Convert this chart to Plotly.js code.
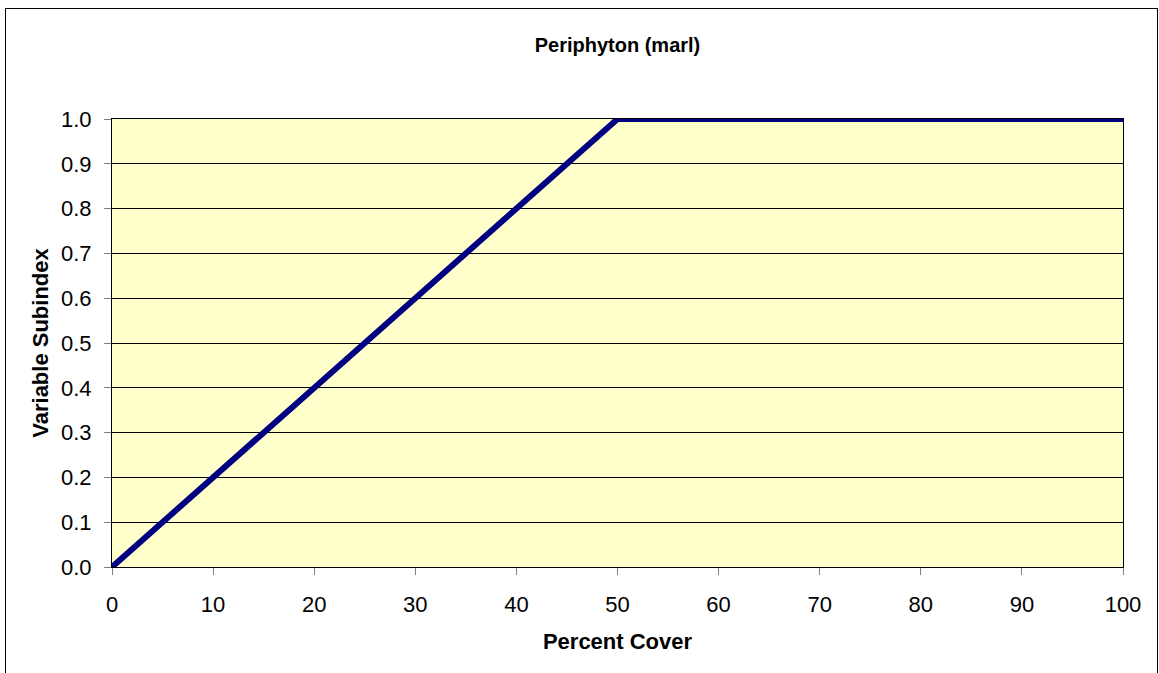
<!DOCTYPE html>
<html>
<head>
<meta charset="utf-8">
<script src="https://cdn.plot.ly/plotly-3.0.1.min.js"></script>
<style>
html,body{margin:0;padding:0;background:#fff;}
#wrap{position:relative;width:1159px;height:673px;overflow:hidden;}
#chart{position:absolute;left:0;top:0;width:1159px;height:673px;}
#frame{position:absolute;left:5px;top:8px;width:1151px;height:700px;border:1px solid #000;pointer-events:none;}
</style>
</head>
<body>
<div id="wrap"><div id="chart"></div><div id="frame"></div></div>
<script>
const percentCover = [0, 50, 100];
const subindex = [0, 1, 1];
const xTicks = [0,10,20,30,40,50,60,70,80,90,100];
const yTicks = [0,0.1,0.2,0.3,0.4,0.5,0.6,0.7,0.8,0.9,1.0];

const trace = {
  x: percentCover, y: subindex, type: 'scatter', mode: 'lines',
  line: {color: '#000080', width: 6}, hoverinfo: 'skip', cliponaxis: false
};
const font = {family: 'Liberation Sans, Arial, sans-serif', color: '#000'};
const layout = {
  width: 1159, height: 673,
  margin: {l: 112, r: 36, t: 119, b: 106},
  paper_bgcolor: 'rgba(0,0,0,0)', plot_bgcolor: '#FFFFCC',
  font: Object.assign({size: 22}, font),
  showlegend: false,
  title: {text: '<b>Periphyton (marl)</b>', font: Object.assign({size: 20}, font),
    x: 0.5, xref: 'paper', xanchor: 'center', y: 1 - 45/673, yref: 'container', yanchor: 'middle'},
  xaxis: {
    range: [0, 100], tickvals: xTicks, ticktext: xTicks.map(String),
    showgrid: false, zeroline: false,
    showline: true, linecolor: '#000', linewidth: 1, mirror: true,
    ticks: 'outside', ticklen: 7, tickcolor: '#808080', tickwidth: 1,
    ticklabelstandoff: 11,
    tickfont: Object.assign({size: 22}, font),
    title: {text: '<b>Percent Cover</b>', font: Object.assign({size: 22}, font), standoff: 17}
  },
  yaxis: {
    range: [0, 1], tickvals: yTicks, ticktext: yTicks.map(v => v.toFixed(1)),
    showgrid: true, gridcolor: '#000', gridwidth: 1, zeroline: false,
    showline: true, linecolor: '#000', linewidth: 1, mirror: true,
    ticks: 'outside', ticklen: 7, tickcolor: '#808080', tickwidth: 1,
    ticklabelstandoff: 8,
    tickfont: Object.assign({size: 22}, font),
    title: {text: '<b>Variable Subindex</b>', font: Object.assign({size: 22}, font), standoff: 6}
  }
};
Plotly.newPlot('chart', [trace], layout, {staticPlot: true, displayModeBar: false});
</script>
</body>
</html>
